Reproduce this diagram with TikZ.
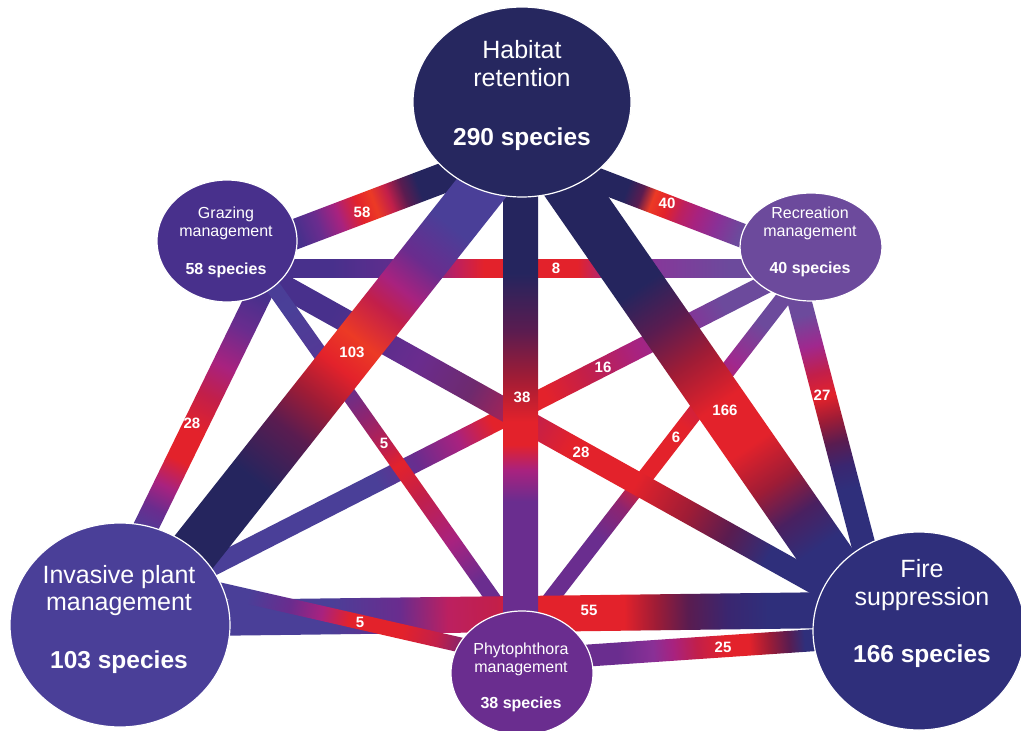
\documentclass[tikz,border=0pt]{standalone}
\usepackage{fontspec}
\setmainfont{Liberation Sans}
\usetikzlibrary{shapes.geometric,calc}
\pgfdeclarelayer{bg}
\pgfsetlayers{bg,main}

\definecolor{navy}{HTML}{25255E}
\definecolor{habc}{HTML}{26275F}
\definecolor{firec}{HTML}{2F2F7B}
\definecolor{bluec}{HTML}{4A3F98}
\definecolor{grazc}{HTML}{48308C}
\definecolor{recc}{HTML}{6C4A9C}
\definecolor{phyc}{HTML}{6A2D8F}
\definecolor{purp}{HTML}{6A2C8E}
\definecolor{purpb}{HTML}{8A3096}
\definecolor{purpc}{HTML}{84399A}
\definecolor{mag}{HTML}{A8227F}
\definecolor{magb}{HTML}{A0288E}
\definecolor{magred}{HTML}{BC2060}
\definecolor{crim}{HTML}{C21F4A}
\definecolor{red}{HTML}{E3222B}
\definecolor{orng}{HTML}{EC3A25}
\definecolor{dred}{HTML}{9E1C36}
\definecolor{wine}{HTML}{5A1C50}
\definecolor{wineb}{HTML}{4A2060}
\definecolor{npur}{HTML}{3A2670}
\definecolor{bpur}{HTML}{5A3494}
\definecolor{pmag}{HTML}{8E2470}
\definecolor{wpur}{HTML}{6E2A6E}
\definecolor{cpur}{HTML}{7D2470}

\pgfdeclarehorizontalshading{sHG}{100bp}{color(0bp)=(grazc); color(37bp)=(grazc); color(40.5bp)=(purp); color(44bp)=(mag); color(47.5bp)=(red); color(50bp)=(orng); color(52.5bp)=(crim); color(55bp)=(wine); color(57.5bp)=(navy); color(100bp)=(navy)}
\pgfdeclarehorizontalshading{sHR}{100bp}{color(0bp)=(navy); color(43bp)=(navy); color(45.5bp)=(wine); color(47.5bp)=(orng); color(50bp)=(red); color(52.5bp)=(magred); color(55bp)=(mag); color(58.5bp)=(purpb); color(62.5bp)=(recc); color(100bp)=(recc)}
\pgfdeclarehorizontalshading{sIH}{100bp}{color(0bp)=(navy); color(39bp)=(navy); color(43.5bp)=(wine); color(46.5bp)=(dred); color(49.5bp)=(red); color(52bp)=(orng); color(55bp)=(crim); color(57bp)=(mag); color(59.5bp)=(purp); color(63bp)=(bluec); color(100bp)=(bluec)}
\pgfdeclarehorizontalshading{sHP}{100bp}{color(0bp)=(navy); color(40bp)=(navy); color(45bp)=(wine); color(49bp)=(dred); color(53bp)=(red); color(55bp)=(red); color(57.25bp)=(mag); color(60bp)=(phyc); color(100bp)=(phyc)}
\pgfdeclarehorizontalshading{sHF}{100bp}{color(0bp)=(navy); color(42.5bp)=(navy); color(46bp)=(wine); color(49.5bp)=(dred); color(53.5bp)=(red); color(57.5bp)=(red); color(61bp)=(dred); color(64bp)=(wineb); color(67bp)=(firec); color(100bp)=(firec)}
\pgfdeclarehorizontalshading{sGR}{100bp}{color(0bp)=(grazc); color(34bp)=(grazc); color(41.5bp)=(purp); color(44.5bp)=(magred); color(47bp)=(red); color(55bp)=(red); color(58bp)=(magb); color(62bp)=(purpc); color(68bp)=(recc); color(100bp)=(recc)}
\pgfdeclarehorizontalshading{sGI}{100bp}{color(0bp)=(grazc); color(31bp)=(grazc); color(35.5bp)=(purp); color(40.5bp)=(mag); color(44.5bp)=(crim); color(49bp)=(red); color(53bp)=(red); color(56.5bp)=(mag); color(59.5bp)=(purp); color(63bp)=(bluec); color(100bp)=(bluec)}
\pgfdeclarehorizontalshading{sGP}{100bp}{color(0bp)=(grazc); color(32.5bp)=(bluec); color(41.5bp)=(bpur); color(46bp)=(pmag); color(50bp)=(crim); color(52bp)=(red); color(56bp)=(crim); color(61.5bp)=(mag); color(66.5bp)=(phyc); color(100bp)=(phyc)}
\pgfdeclarehorizontalshading{sGF}{100bp}{color(0bp)=(grazc); color(32bp)=(grazc); color(38.5bp)=(purp); color(42.5bp)=(wpur); color(47bp)=(crim); color(50bp)=(red); color(55bp)=(red); color(59bp)=(dred); color(62bp)=(wine); color(65bp)=(firec); color(100bp)=(firec)}
\pgfdeclarehorizontalshading{sRI}{100bp}{color(0bp)=(recc); color(31bp)=(recc); color(34bp)=(purpb); color(37.5bp)=(mag); color(41bp)=(crim); color(44bp)=(red); color(48bp)=(red); color(50.5bp)=(mag); color(53.5bp)=(purp); color(56.5bp)=(bluec); color(100bp)=(bluec)}
\pgfdeclarehorizontalshading{sRP}{100bp}{color(0bp)=(recc); color(33.5bp)=(recc); color(38.5bp)=(magb); color(43bp)=(crim); color(47bp)=(red); color(54bp)=(red); color(57.5bp)=(pmag); color(61.5bp)=(phyc); color(100bp)=(phyc)}
\pgfdeclarehorizontalshading{sRF}{100bp}{color(0bp)=(recc); color(34bp)=(recc); color(38bp)=(magb); color(41.5bp)=(crim); color(44.5bp)=(red); color(47.5bp)=(dred); color(50.5bp)=(wine); color(53.5bp)=(npur); color(56.5bp)=(firec); color(100bp)=(firec)}
\pgfdeclarehorizontalshading{sIP}{100bp}{color(0bp)=(bluec); color(39bp)=(bluec); color(45bp)=(purp); color(49.5bp)=(mag); color(53.5bp)=(red); color(61bp)=(red); color(66bp)=(crim); color(70bp)=(cpur); color(75bp)=(phyc); color(100bp)=(phyc)}
\pgfdeclarehorizontalshading{sIF}{100bp}{color(0bp)=(bluec); color(38bp)=(bluec); color(42.5bp)=(purp); color(45.5bp)=(magred); color(48.5bp)=(crim); color(50.5bp)=(red); color(56.5bp)=(red); color(58.5bp)=(dred); color(60.5bp)=(wine); color(63bp)=(npur); color(65.5bp)=(firec); color(100bp)=(firec)}
\pgfdeclarehorizontalshading{sPF}{100bp}{color(0bp)=(phyc); color(37bp)=(phyc); color(41.5bp)=(purpb); color(44bp)=(mag); color(47bp)=(crim); color(50.5bp)=(red); color(53.5bp)=(red); color(56bp)=(dred); color(58.5bp)=(wine); color(60.5bp)=(firec); color(100bp)=(firec)}

% band from node #1 (+offset #2) to node #3 (+offset #4), width #5, shading #6
\newcommand\band[6]{%
  \path ($(#1)+(#2)$) coordinate (bS) ($(#3)+(#4)$) coordinate (bE);
  \pgfpointanchor{bS}{center}\pgfgetlastxy\bSx\bSy
  \pgfpointanchor{bE}{center}\pgfgetlastxy\bEx\bEy
  \pgfmathsetmacro\bAng{atan2(\bEy-\bSy,\bEx-\bSx)}%
  \pgfmathsetmacro\bLen{veclen(\bEx-\bSx,\bEy-\bSy)}%
  \pgfmathsetmacro\bHalf{#5/2}%
  \begin{scope}[transform canvas={shift={(\bSx,\bSy)},rotate=\bAng}]
    \shade[shading=#6] (0pt,-\bHalf pt) rectangle (\bLen pt,\bHalf pt);
  \end{scope}
}

\tikzset{
  circ/.style={ellipse, draw=white, line width=1.2pt, inner sep=0pt},
  bigt/.style={anchor=base, text=white, inner sep=0pt, font=\fontsize{25}{30}\selectfont},
  bigb/.style={anchor=base, text=white, inner sep=0pt, font=\bfseries\fontsize{24.5}{30}\selectfont},
  smt/.style={anchor=base, text=white, inner sep=0pt, font=\fontsize{16}{19}\selectfont},
  smb/.style={anchor=base, text=white, inner sep=0pt, font=\bfseries\fontsize{16}{19}\selectfont},
  lbl/.style={text=white, inner sep=0pt, font=\bfseries\fontsize{15}{18}\selectfont},
}

\begin{document}
\begin{tikzpicture}[x=1pt,y=-1pt]
\useasboundingbox (0,0) rectangle (1021,731);

% nodes
\node[circ, fill=habc, minimum width=218pt, minimum height=190pt] (hab) at (522,102) {};
\node[circ, fill=grazc, minimum width=140pt, minimum height=122pt] (graz) at (227,241) {};
\node[circ, fill=recc, minimum width=142pt, minimum height=108pt] (rec) at (811,247) {};
\node[circ, fill=bluec, minimum width=220pt, minimum height=204pt] (inv) at (120,625) {};
\node[circ, fill=phyc, minimum width=142pt, minimum height=124pt] (phy) at (522,673) {};
\node[circ, fill=firec, minimum width=212pt, minimum height=198pt] (fire) at (919,631) {};

% node texts
\node[bigt] (hab1) at (522,58) {Habitat};
\node[bigt] (hab2) at (522,86) {retention};
\node[bigb] (hab3) at (522,145) {290 species};
\node[smt] (graz1) at (226,218) {Grazing};
\node[smt] (graz2) at (226,236) {management};
\node[smb] (graz3) at (226,274) {58 species};
\node[smt] (rec1) at (810,218) {Recreation};
\node[smt] (rec2) at (810,236) {management};
\node[smb] (rec3) at (810,273) {40 species};
\node[bigt] (inv1) at (119,583) {Invasive plant};
\node[bigt] (inv2) at (119,610) {management};
\node[bigb] (inv3) at (119,668) {103 species};
\node[smt] (phy1) at (521,654) {Phytophthora};
\node[smt] (phy2) at (521,672) {management};
\node[smb] (phy3) at (521,708) {38 species};
\node[bigt] (fire1) at (922,577) {Fire};
\node[bigt] (fire2) at (922,605) {suppression};
\node[bigb] (fire3) at (922,662) {166 species};

% bands
\begin{pgfonlayer}{bg}
\fill[white] (0,0) rectangle (1021,731);
\band{graz}{0,27}{rec}{0,21}{18}{sGR}
\band{rec}{-6,17}{inv}{5,-14}{19}{sRI}
\band{rec}{2,13}{phy}{-3,-33}{16}{sRP}
\band{rec}{-26,-1}{fire}{-33,0}{24}{sRF}
\band{graz}{54,9}{inv}{-22,0}{25}{sGI}
\band{graz}{13,21}{fire}{-19,-1}{23}{sGF}
\band{graz}{20,9}{phy}{6,-25}{15}{sGP}
\band{phy}{0,-13}{fire}{1,2}{22}{sPF}
\band{hab}{0,49}{rec}{0,15}{24}{sHR}
\band{graz}{0,19}{hab}{0,46}{30}{sHG}
\band{inv}{0,-6}{fire}{1,-22}{36}{sIF}
\band{inv}{30,-51}{phy}{-22,-19}{15}{sIP}
\band{hab}{-1.5,0}{phy}{-1.5,0}{35}{sHP}
\band{inv}{16,0}{hab}{29,-2}{50}{sIH}
\band{hab}{-11,0}{fire}{-41,0}{52}{sHF}
\end{pgfonlayer}

% band labels
\node[lbl] (l58) at (362,212) {58};
\node[lbl] (l40) at (667,203) {40};
\node[lbl] (l103) at (352,352) {103};
\node[lbl] (l38) at (522,397) {38};
\node[lbl] (l166) at (725,410) {166};
\node[lbl] (l8) at (556,268) {8};
\node[lbl] (l28a) at (192,423) {28};
\node[lbl] (l5a) at (384,443) {5};
\node[lbl] (l28b) at (581,452) {28};
\node[lbl] (l16) at (603,367) {16};
\node[lbl] (l6) at (676,437) {6};
\node[lbl] (l27) at (822,395) {27};
\node[lbl] (l5b) at (360,622) {5};
\node[lbl] (l55) at (589,610) {55};
\node[lbl] (l25) at (723,647) {25};
\end{tikzpicture}
\end{document}
